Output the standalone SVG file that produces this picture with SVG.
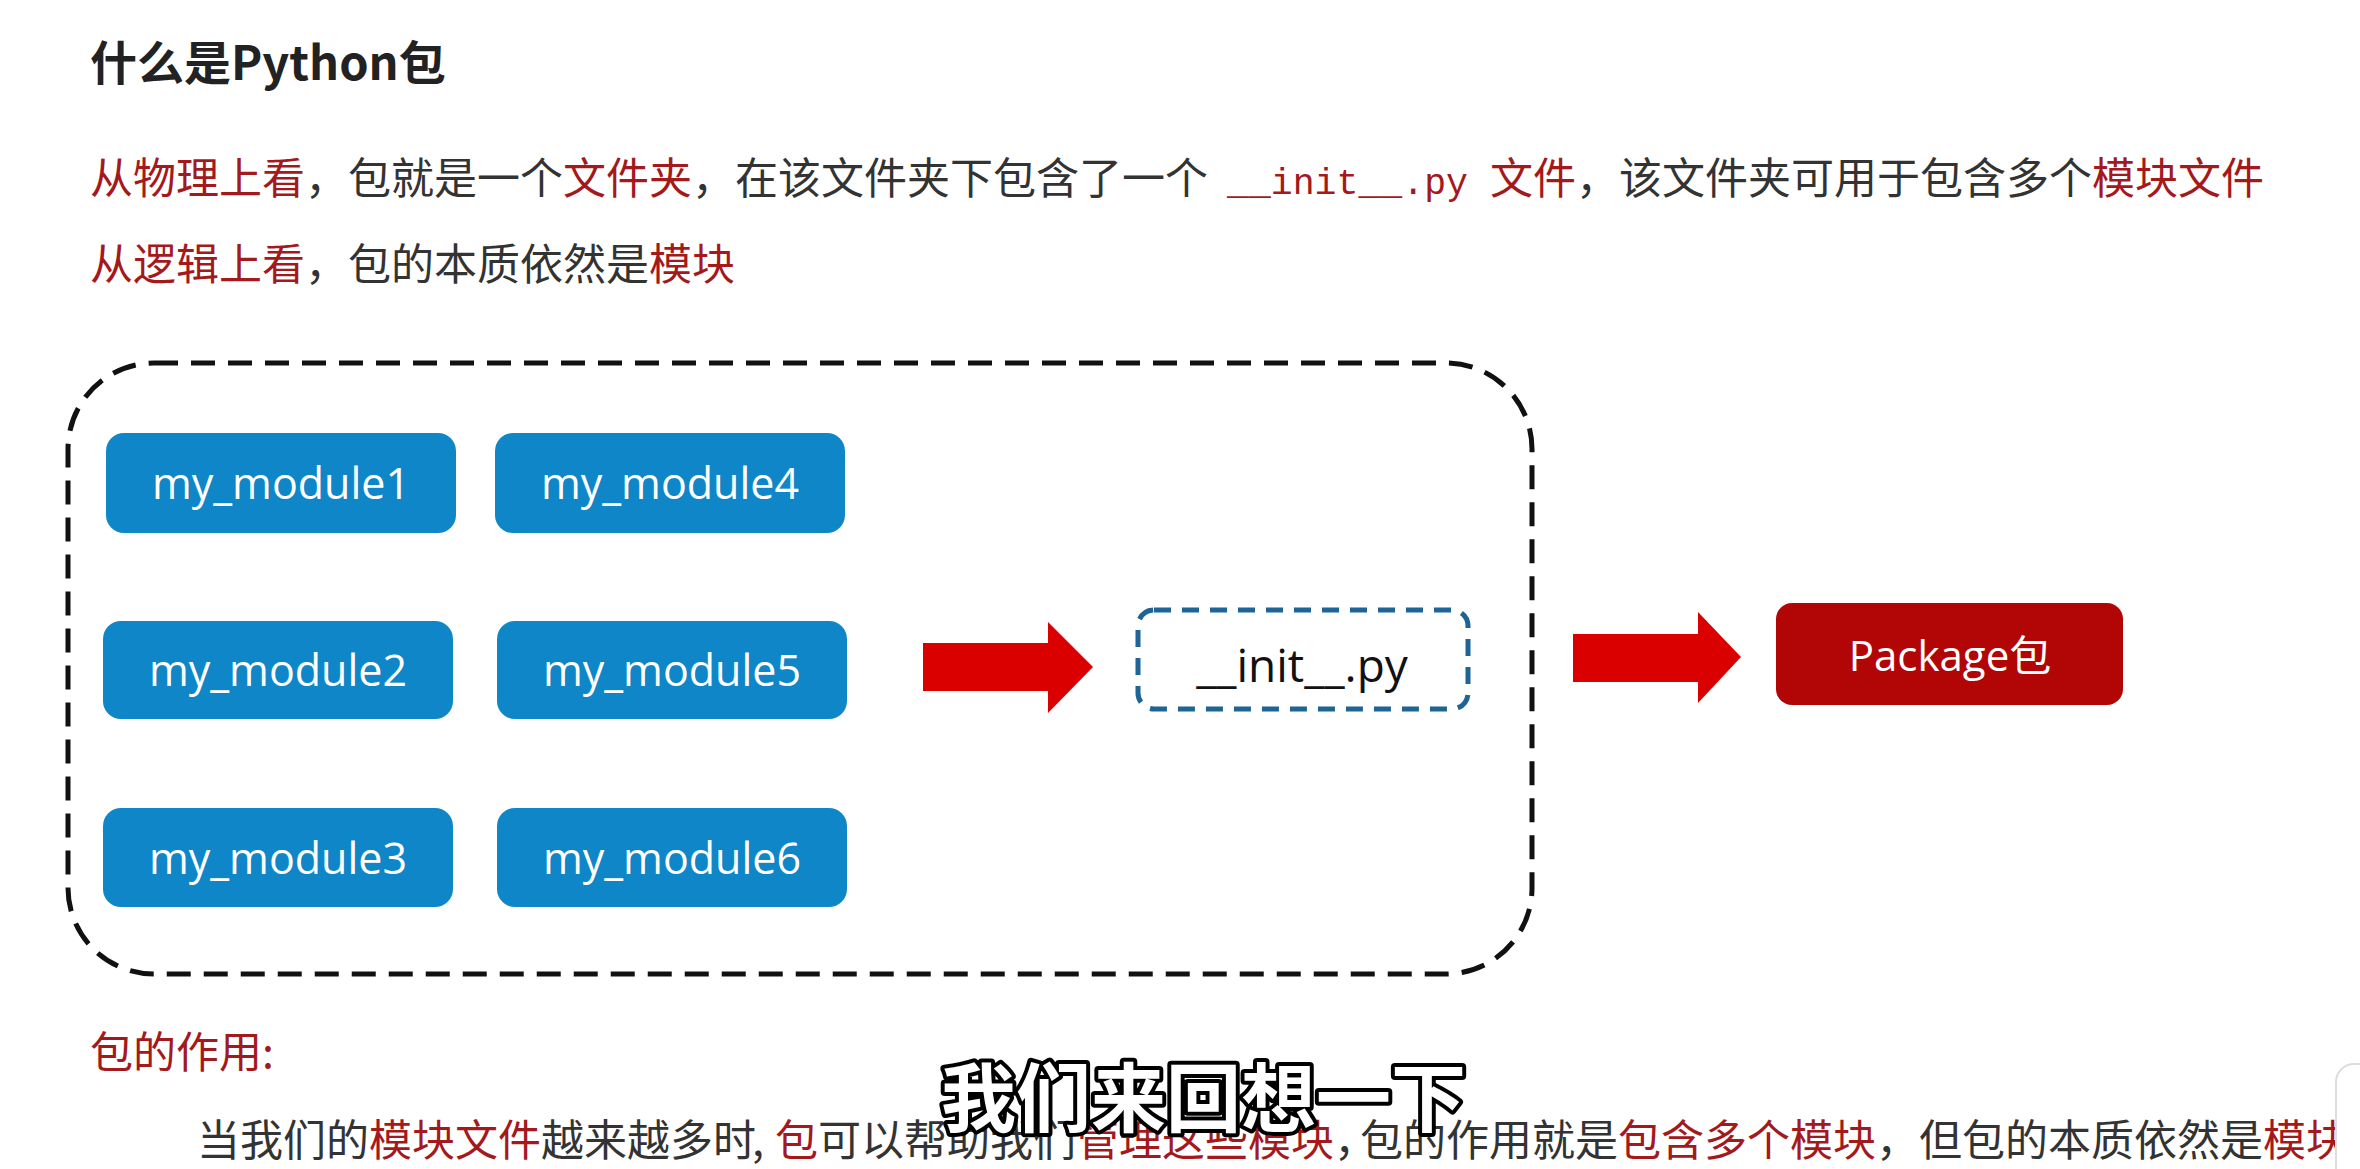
<svg xmlns="http://www.w3.org/2000/svg" width="2360" height="1169" viewBox="0 0 2360 1169">
  <defs>
    <style>
      .cjk { font-family: 'Noto Sans CJK SC', sans-serif; }
      .red { fill: #A3191C; }
      .blk { fill: #333333; }
      .mod rect { fill: #0E86C8; }
      .mod text { font-family: 'Open Sans', 'Noto Sans CJK SC', sans-serif; font-size: 43px; fill: #FFFFFF; text-anchor: middle; }
      .arrow { fill: #DB0000; }
    </style>
  </defs>
  <rect x="0" y="0" width="2360" height="1169" fill="#FFFFFF"/>

  <!-- Title and description -->
  <text x="90" y="80" class="cjk" font-size="47" font-weight="bold" fill="#222222">什么是Python包</text>

  <text x="90" y="194" class="cjk" font-size="43"><tspan class="red">从物理上看</tspan><tspan class="blk">，包就是一个</tspan><tspan class="red">文件夹</tspan><tspan class="blk">，在该文件夹下包含了一个</tspan></text>
  <text x="1227" y="194" font-family="'Liberation Mono', monospace" font-size="36.5" class="red">__init__.py</text>
  <text x="1490" y="194" class="cjk" font-size="43"><tspan class="red">文件</tspan><tspan class="blk">，该文件夹可用于包含多个</tspan><tspan class="red">模块文件</tspan></text>

  <text x="90" y="280" class="cjk" font-size="43"><tspan class="red">从逻辑上看</tspan><tspan class="blk">，包的本质依然是</tspan><tspan class="red">模块</tspan></text>

  <!-- Package folder container -->
  <g id="folder">
    <rect x="68" y="363" width="1464" height="611" rx="86" ry="86" fill="none" stroke="#111111" stroke-width="5" stroke-dasharray="24 13"/>
  </g>

  <g id="my_module1" class="mod"><rect x="106" y="433" width="350" height="100" rx="18"/><text x="281" y="499">my_module1</text></g>
  <g id="my_module4" class="mod"><rect x="495" y="433" width="350" height="100" rx="18"/><text x="670" y="499">my_module4</text></g>
  <g id="my_module2" class="mod"><rect x="103" y="621" width="350" height="98" rx="18"/><text x="278" y="686">my_module2</text></g>
  <g id="my_module5" class="mod"><rect x="497" y="621" width="350" height="98" rx="18"/><text x="672" y="686">my_module5</text></g>
  <g id="my_module3" class="mod"><rect x="103" y="808" width="350" height="99" rx="18"/><text x="278" y="874">my_module3</text></g>
  <g id="my_module6" class="mod"><rect x="497" y="808" width="350" height="99" rx="18"/><text x="672" y="874">my_module6</text></g>

  <g id="init_py">
    <rect x="1138" y="610" width="330" height="99" rx="16" fill="#FFFFFF" stroke="#1E6496" stroke-width="5" stroke-dasharray="17 11"/>
    <text x="1302" y="682" font-family="'Open Sans', sans-serif" font-size="46" fill="#111111" text-anchor="middle">__init__.py</text>
  </g>

  <g id="package">
    <rect x="1776" y="603" width="347" height="102" rx="16" fill="#B20606"/>
    <text x="1950" y="671" font-family="'Open Sans', 'Noto Sans CJK SC', sans-serif" font-size="42" fill="#FFFFFF" text-anchor="middle">Package包</text>
  </g>

  <!-- Connectors -->
  <g id="connectors">
    <polygon class="arrow" points="923,643 1048,643 1048,622 1093,667 1048,713 1048,691 923,691"/>
    <polygon class="arrow" points="1573,634 1698,634 1698,612 1741,657 1698,703 1698,682 1573,682"/>
  </g>

  <!-- Bottom text -->
  <text x="90" y="1068" class="cjk red" font-size="43">包的作用:</text>

  <g class="cjk" font-size="43">
    <text x="197" y="1156"><tspan class="blk">当我们的</tspan><tspan class="red">模块文件</tspan><tspan class="blk">越来越多时</tspan></text>
    <text x="752" y="1156" class="blk">,</text>
    <text x="775" y="1156"><tspan class="red">包</tspan><tspan class="blk">可以帮助我们</tspan><tspan class="red">管理这些模块</tspan><tspan class="blk">，</tspan></text>
    <text x="1360" y="1156"><tspan class="blk">包的作用就是</tspan><tspan class="red">包含多个模块</tspan><tspan class="blk">，但包的本质依然是</tspan><tspan class="red">模块</tspan></text>
  </g>

  <!-- Subtitle overlay -->
  <text x="941" y="1126" class="cjk" font-size="75" font-weight="bold" fill="#FFFFFF" stroke="#000000" stroke-width="8" stroke-linejoin="round" paint-order="stroke">我们来回想一下</text>

  <rect x="2336" y="1064" width="44" height="130" rx="18" fill="#FFFFFF" stroke="#DDDDDD" stroke-width="2"/>
</svg>
